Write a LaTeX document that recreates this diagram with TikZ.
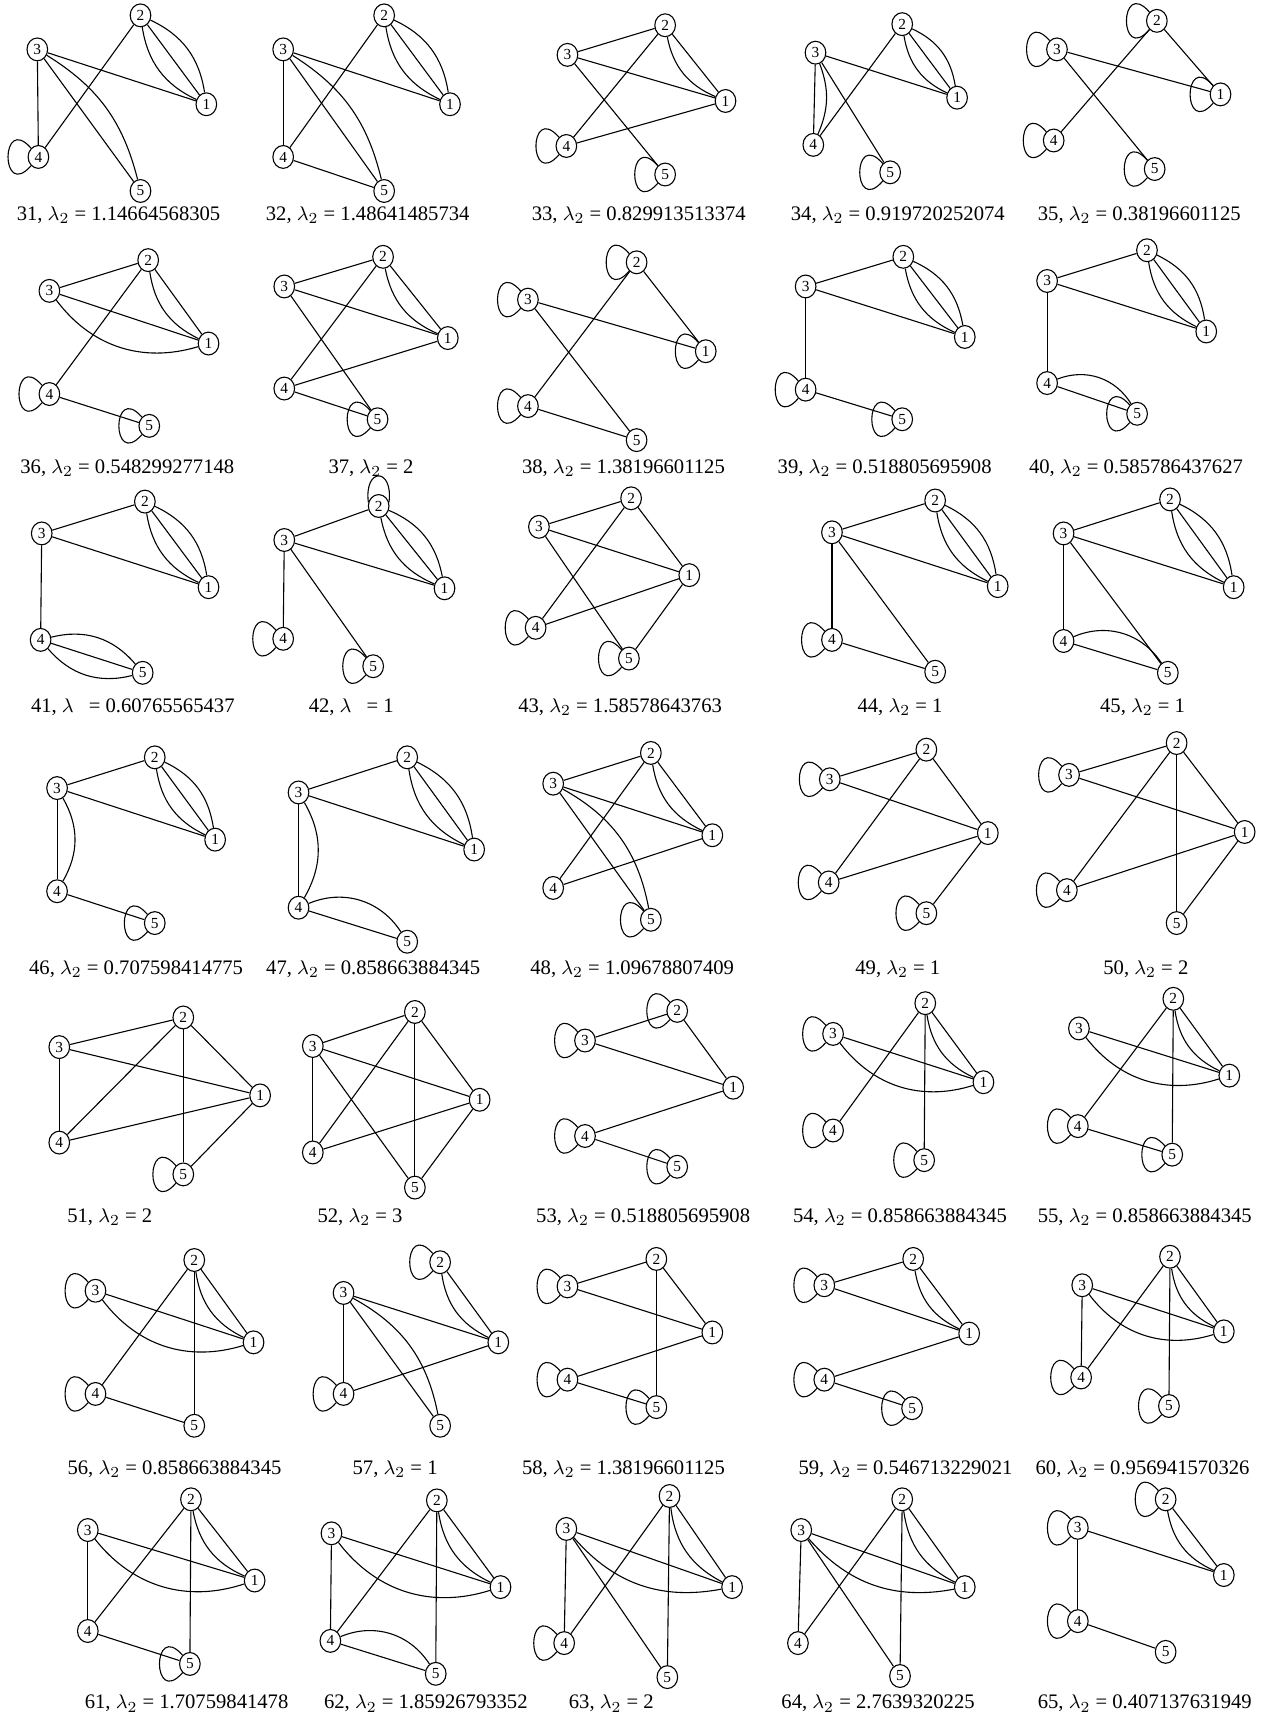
\documentclass[tikz,border=0pt]{standalone}
\usepackage{fontspec}
\setmainfont{Liberation Serif}
\usetikzlibrary{shapes.geometric}
\tikzset{
  vx/.style={ellipse,draw,line width=0.5pt,fill=white,minimum width=9.4pt,minimum height=10.4pt,inner sep=0pt,font=\fontsize{7}{8}\selectfont},
  ed/.style={line width=0.5pt},
  lbl/.style={anchor=base,inner sep=0pt,font=\fontsize{9.4}{11}\selectfont},
}
\newcommand{\Gr}[6]{%
  \node[vx] (#1n1) at #2 {1};
  \node[vx] (#1n2) at #3 {2};
  \node[vx] (#1n3) at #4 {3};
  \node[vx] (#1n4) at #5 {4};
  \node[vx] (#1n5) at #6 {5};}
\newcommand{\Ed}[3]{\draw[ed] (#1n#2) -- (#1n#3);}
\newcommand{\Cv}[4]{\draw[ed] (#1n#2) to[#4] (#1n#3);}
\newcommand{\Lp}[2]{\draw[ed] (#1n#2.130) .. controls +(-28,-32) and +(-28,32) .. (#1n#2.230);}
\newcommand{\Tri}[3]{\Ed{#1}{#2}{#3}\Cv{#1}{#2}{#3}{bend left=28}\Cv{#1}{#2}{#3}{bend right=28}}
\newcommand{\Lab}[4]{\node[lbl] (c#1) at (#2,#3) {#1, $\lambda_2$ = #4};}
\newcommand{\LabX}[4]{\node[lbl] (c#1) at (#2,#3) {#1, $\lambda\phantom{_2}$ = #4};}
\begin{document}
\begin{tikzpicture}[x=0.5pt,y=-0.5pt]
\useasboundingbox (0,0) rectangle (1153,1568);
% ---------- row 1
\Gr{g31}{(188,95)}{(128,14)}{(34,45)}{(35,143)}{(128,174)}
\Tri{g31}{2}{1}\Ed{g31}{3}{1}\Ed{g31}{3}{4}\Ed{g31}{2}{4}\Ed{g31}{3}{5}\Cv{g31}{3}{5}{bend left=22}\Lp{g31}{4}
\Lab{31}{108}{201}{1.14664568305}
\Gr{g32}{(410,95)}{(350,14)}{(258,45)}{(258,143)}{(350,174)}
\Tri{g32}{2}{1}\Ed{g32}{3}{1}\Ed{g32}{3}{4}\Ed{g32}{2}{4}\Ed{g32}{3}{5}\Cv{g32}{3}{5}{bend left=22}\Ed{g32}{4}{5}
\Lab{32}{335}{201}{1.48641485734}
\Gr{g33}{(661,92)}{(606,23)}{(517,50)}{(516,133)}{(606,159)}
\Ed{g33}{3}{2}\Ed{g33}{3}{1}\Ed{g33}{3}{5}\Ed{g33}{2}{4}\Ed{g33}{2}{1}\Cv{g33}{2}{1}{bend right=28}\Ed{g33}{4}{1}\Lp{g33}{4}\Lp{g33}{5}
\Lab{33}{582}{201}{0.829913513374}
\Gr{g34}{(872,89)}{(822,22)}{(743,48)}{(741,132)}{(811,157)}
\Tri{g34}{2}{1}\Ed{g34}{3}{1}\Ed{g34}{3}{4}\Cv{g34}{3}{4}{bend left=22}\Ed{g34}{2}{4}\Ed{g34}{3}{5}\Lp{g34}{5}
\Lab{34}{818}{201}{0.919720252074}
\Gr{g35}{(1112,86)}{(1054,19)}{(963,45)}{(960,128)}{(1052,154)}
\Ed{g35}{2}{1}\Ed{g35}{3}{1}\Ed{g35}{2}{4}\Ed{g35}{3}{5}\Lp{g35}{1}\Lp{g35}{2}\Lp{g35}{3}\Lp{g35}{4}\Lp{g35}{5}
\Lab{35}{1038}{201}{0.38196601125}
% ---------- row 2
\Gr{g36}{(190,313)}{(135,237)}{(45,265)}{(45,359)}{(136,388)}
\Ed{g36}{3}{2}\Ed{g36}{3}{1}\Cv{g36}{3}{1}{bend right=35}\Ed{g36}{2}{1}\Cv{g36}{2}{1}{bend right=28}\Ed{g36}{2}{4}\Ed{g36}{4}{5}\Lp{g36}{4}\Lp{g36}{5}
\Lab{36}{116}{431}{0.548299277148}
\Gr{g37}{(408,308)}{(349,234)}{(259,261)}{(259,354)}{(344,382)}
\Ed{g37}{3}{2}\Ed{g37}{3}{1}\Ed{g37}{3}{5}\Ed{g37}{2}{4}\Ed{g37}{2}{1}\Cv{g37}{2}{1}{bend right=28}\Ed{g37}{4}{1}\Ed{g37}{4}{5}\Lp{g37}{5}
\Lab{37}{338}{431}{2}
\Gr{g38}{(643,320)}{(580,239)}{(481,273)}{(481,370)}{(580,401)}
\Ed{g38}{2}{1}\Ed{g38}{2}{4}\Ed{g38}{3}{1}\Ed{g38}{3}{5}\Ed{g38}{4}{5}\Lp{g38}{1}\Lp{g38}{2}\Lp{g38}{3}\Lp{g38}{4}
\Lab{38}{568}{431}{1.38196601125}
\Gr{g39}{(879,307)}{(823,234)}{(734,261)}{(734,355)}{(822,382)}
\Ed{g39}{3}{2}\Ed{g39}{3}{1}\Tri{g39}{2}{1}\Ed{g39}{3}{4}\Ed{g39}{4}{5}\Lp{g39}{4}\Lp{g39}{5}
\Lab{39}{806}{431}{0.518805695908}
\Gr{g40}{(1099,302)}{(1045,228)}{(954,256)}{(954,349)}{(1036,377)}
\Ed{g40}{3}{2}\Ed{g40}{3}{1}\Tri{g40}{2}{1}\Ed{g40}{3}{4}\Ed{g40}{4}{5}\Cv{g40}{4}{5}{bend left=40}\Lp{g40}{5}
\Lab{40}{1035}{431}{0.585786437627}
% ---------- row 3
\Gr{g41}{(190,535)}{(132,457)}{(38,486)}{(37,583)}{(130,613)}
\Ed{g41}{3}{2}\Ed{g41}{3}{1}\Tri{g41}{2}{1}\Ed{g41}{3}{4}\Ed{g41}{4}{5}\Cv{g41}{4}{5}{bend left=32}\Cv{g41}{4}{5}{bend right=32}
\LabX{41}{121}{649}{0.60765565437}
\Gr{g42}{(405,536)}{(345,461)}{(259,492)}{(258,582)}{(340,607)}
\Ed{g42}{3}{2}\Ed{g42}{3}{1}\Tri{g42}{2}{1}\Ed{g42}{3}{4}\Ed{g42}{3}{5}\Lp{g42}{4}\Lp{g42}{5}
\draw[ed] (g42n2.160) .. controls +(-4,-32) and +(4,-32) .. (g42n2.20);
\LabX{42}{320}{649}{1}
\Gr{g43}{(628,524)}{(575,454)}{(491,480)}{(488,572)}{(573,600)}
\Ed{g43}{3}{2}\Ed{g43}{3}{1}\Ed{g43}{3}{5}\Ed{g43}{2}{4}\Ed{g43}{2}{1}\Ed{g43}{4}{1}\Ed{g43}{1}{5}\Lp{g43}{4}\Lp{g43}{5}
\Lab{43}{565}{649}{1.58578643763}
\Gr{g44}{(909,534)}{(852,456)}{(758,485)}{(758,583)}{(852,612)}
\Ed{g44}{3}{2}\Ed{g44}{3}{1}\Tri{g44}{2}{1}\Ed{g44}{3}{4}\Ed{g44}{3}{5}\Ed{g44}{4}{5}\Lp{g44}{4}
\Lab{44}{820}{649}{1}
\Gr{g45}{(1124,535)}{(1066,455)}{(969,486)}{(969,584)}{(1064,613)}
\Ed{g45}{3}{2}\Ed{g45}{3}{1}\Tri{g45}{2}{1}\Ed{g45}{3}{4}\Ed{g45}{3}{5}\Ed{g45}{4}{5}\Cv{g45}{4}{5}{bend left=40}
\Lab{45}{1041}{649}{1}
% ---------- row 4
\Gr{g46}{(196,765)}{(141,690)}{(52,718)}{(52,812)}{(141,841)}
\Ed{g46}{3}{2}\Ed{g46}{3}{1}\Tri{g46}{2}{1}\Ed{g46}{3}{4}\Cv{g46}{3}{4}{bend left=30}\Ed{g46}{4}{5}\Lp{g46}{5}
\Lab{46}{124}{888}{0.707598414775}
\Gr{g47}{(432,774)}{(371,690)}{(272,722)}{(272,827)}{(371,858)}
\Ed{g47}{3}{2}\Ed{g47}{3}{1}\Tri{g47}{2}{1}\Ed{g47}{3}{4}\Cv{g47}{3}{4}{bend left=30}\Ed{g47}{4}{5}\Cv{g47}{4}{5}{bend left=40}
\Lab{47}{340}{888}{0.858663884345}
\Gr{g48}{(649,761)}{(593,686)}{(504,714)}{(504,809)}{(593,838)}
\Ed{g48}{3}{2}\Ed{g48}{3}{1}\Ed{g48}{3}{5}\Cv{g48}{3}{5}{bend left=25}\Ed{g48}{2}{4}\Ed{g48}{2}{1}\Cv{g48}{2}{1}{bend right=28}\Ed{g48}{4}{1}\Lp{g48}{5}
\Lab{48}{576}{888}{1.09678807409}
\Gr{g49}{(900,759)}{(844,683)}{(756,710)}{(755,804)}{(844,832)}
\Ed{g49}{3}{2}\Ed{g49}{3}{1}\Ed{g49}{2}{4}\Ed{g49}{2}{1}\Ed{g49}{4}{1}\Ed{g49}{1}{5}\Lp{g49}{3}\Lp{g49}{4}\Lp{g49}{5}
\Lab{49}{818}{888}{1}
\Gr{g50}{(1134,758)}{(1072,677)}{(974,706)}{(972,811)}{(1072,841)}
\Ed{g50}{3}{2}\Ed{g50}{3}{1}\Ed{g50}{2}{4}\Ed{g50}{2}{5}\Ed{g50}{2}{1}\Ed{g50}{4}{1}\Ed{g50}{1}{5}\Lp{g50}{3}\Lp{g50}{4}
\Lab{50}{1044}{888}{2}
% ---------- row 5
\Gr{g51}{(237,998)}{(167,927)}{(54,954)}{(54,1041)}{(167,1070)}
\Ed{g51}{3}{2}\Ed{g51}{3}{1}\Ed{g51}{3}{4}\Ed{g51}{2}{4}\Ed{g51}{2}{5}\Ed{g51}{2}{1}\Ed{g51}{4}{1}\Ed{g51}{1}{5}\Lp{g51}{5}
\Lab{51}{100}{1114}{2}
\Gr{g52}{(437,1002)}{(378,922)}{(285,953)}{(285,1050)}{(378,1082)}
\Ed{g52}{3}{2}\Ed{g52}{3}{1}\Ed{g52}{3}{4}\Ed{g52}{3}{5}\Ed{g52}{2}{4}\Ed{g52}{2}{5}\Ed{g52}{2}{1}\Ed{g52}{4}{1}\Ed{g52}{1}{5}
\Lab{52}{328}{1114}{3}
\Gr{g53}{(668,991)}{(617,921)}{(533,948)}{(533,1035)}{(617,1063)}
\Ed{g53}{3}{2}\Ed{g53}{2}{1}\Ed{g53}{3}{1}\Ed{g53}{4}{1}\Ed{g53}{4}{5}\Lp{g53}{2}\Lp{g53}{3}\Lp{g53}{4}\Lp{g53}{5}
\Lab{53}{586}{1114}{0.518805695908}
\Gr{g54}{(896,986)}{(843,914)}{(759,942)}{(759,1030)}{(842,1057)}
\Ed{g54}{3}{1}\Cv{g54}{3}{1}{bend right=35}\Ed{g54}{2}{4}\Ed{g54}{2}{5}\Ed{g54}{2}{1}\Cv{g54}{2}{1}{bend right=28}\Lp{g54}{3}\Lp{g54}{4}\Lp{g54}{5}
\Lab{54}{820}{1114}{0.858663884345}
\Gr{g55}{(1120,980)}{(1069,910)}{(983,937)}{(982,1026)}{(1068,1052)}
\Ed{g55}{3}{1}\Cv{g55}{3}{1}{bend right=35}\Ed{g55}{2}{4}\Ed{g55}{2}{5}\Ed{g55}{2}{1}\Cv{g55}{2}{1}{bend right=28}\Ed{g55}{4}{5}\Lp{g55}{4}\Lp{g55}{5}
\Lab{55}{1043}{1114}{0.858663884345}
% ---------- row 6
\Gr{g56}{(231,1223)}{(177,1148)}{(87,1176)}{(87,1270)}{(177,1299)}
\Ed{g56}{3}{1}\Cv{g56}{3}{1}{bend right=35}\Ed{g56}{2}{4}\Ed{g56}{2}{5}\Ed{g56}{2}{1}\Cv{g56}{2}{1}{bend right=28}\Ed{g56}{4}{5}\Lp{g56}{3}\Lp{g56}{4}
\Lab{56}{159}{1343}{0.858663884345}
\Gr{g57}{(454,1223)}{(401,1150)}{(313,1178)}{(313,1270)}{(401,1299)}
\Ed{g57}{2}{1}\Cv{g57}{2}{1}{bend right=28}\Ed{g57}{3}{1}\Ed{g57}{3}{4}\Ed{g57}{3}{5}\Cv{g57}{3}{5}{bend left=25}\Ed{g57}{4}{1}\Lp{g57}{2}\Lp{g57}{4}
\Lab{57}{360}{1343}{1}
\Gr{g58}{(649,1214)}{(598,1147)}{(517,1172)}{(517,1257)}{(598,1282)}
\Ed{g58}{3}{2}\Ed{g58}{3}{1}\Ed{g58}{2}{1}\Ed{g58}{2}{5}\Ed{g58}{4}{1}\Ed{g58}{4}{5}\Lp{g58}{3}\Lp{g58}{4}\Lp{g58}{5}
\Lab{58}{568}{1343}{1.38196601125}
\Gr{g59}{(883,1215)}{(832,1147)}{(751,1171)}{(751,1257)}{(831,1283)}
\Ed{g59}{3}{2}\Ed{g59}{3}{1}\Ed{g59}{2}{1}\Cv{g59}{2}{1}{bend right=28}\Ed{g59}{4}{1}\Ed{g59}{4}{5}\Lp{g59}{3}\Lp{g59}{4}\Lp{g59}{5}
\Lab{59}{825}{1343}{0.546713229021}
\Gr{g60}{(1115,1213)}{(1066,1145)}{(986,1171)}{(985,1255)}{(1065,1281)}
\Ed{g60}{3}{4}\Ed{g60}{3}{1}\Cv{g60}{3}{1}{bend right=35}\Ed{g60}{2}{4}\Ed{g60}{2}{5}\Ed{g60}{2}{1}\Cv{g60}{2}{1}{bend right=28}\Lp{g60}{4}\Lp{g60}{5}
\Lab{60}{1041}{1343}{0.956941570326}
% ---------- row 7
\Gr{g61}{(232,1440)}{(174,1366)}{(80,1394)}{(80,1486)}{(173,1516)}
\Ed{g61}{3}{4}\Ed{g61}{3}{1}\Cv{g61}{3}{1}{bend right=35}\Ed{g61}{2}{4}\Ed{g61}{2}{5}\Ed{g61}{2}{1}\Cv{g61}{2}{1}{bend right=28}\Ed{g61}{4}{5}\Lp{g61}{5}
\Lab{61}{170}{1557}{1.70759841478}
\Gr{g62}{(456,1446)}{(398,1367)}{(302,1397)}{(301,1495)}{(397,1525)}
\Ed{g62}{3}{4}\Ed{g62}{3}{1}\Cv{g62}{3}{1}{bend right=35}\Ed{g62}{2}{4}\Ed{g62}{2}{5}\Ed{g62}{2}{1}\Cv{g62}{2}{1}{bend right=28}\Ed{g62}{4}{5}\Cv{g62}{4}{5}{bend left=40}
\Lab{62}{388}{1557}{1.85926793352}
\Gr{g63}{(667,1446)}{(610,1363)}{(516,1393)}{(514,1497)}{(608,1528)}
\Ed{g63}{3}{4}\Ed{g63}{3}{1}\Cv{g63}{3}{1}{bend right=30}\Ed{g63}{3}{5}\Ed{g63}{2}{4}\Ed{g63}{2}{5}\Ed{g63}{2}{1}\Cv{g63}{2}{1}{bend right=28}\Lp{g63}{4}
\Lab{63}{557}{1557}{2}
\Gr{g64}{(879,1446)}{(822,1366)}{(730,1394)}{(727,1497)}{(820,1527)}
\Ed{g64}{3}{4}\Ed{g64}{3}{1}\Cv{g64}{3}{1}{bend right=30}\Ed{g64}{3}{5}\Ed{g64}{2}{4}\Ed{g64}{2}{5}\Ed{g64}{2}{1}\Cv{g64}{2}{1}{bend right=28}
\Lab{64}{800}{1557}{2.7639320225}
\Gr{g65}{(1115,1435)}{(1062,1366)}{(982,1392)}{(982,1477)}{(1062,1505)}
\Ed{g65}{3}{1}\Ed{g65}{2}{1}\Cv{g65}{2}{1}{bend right=28}\Ed{g65}{3}{4}\Ed{g65}{4}{5}\Lp{g65}{2}\Lp{g65}{3}\Lp{g65}{4}
\Lab{65}{1043}{1557}{0.407137631949}
\end{tikzpicture}
\end{document}
